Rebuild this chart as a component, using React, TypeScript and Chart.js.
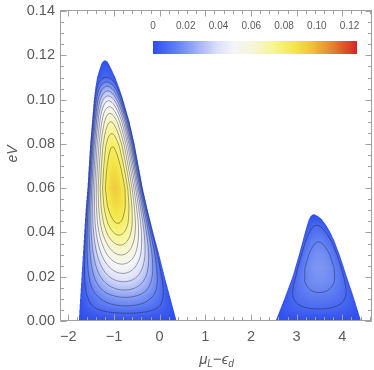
import React, { useEffect, useRef } from 'react';
import { Chart, registerables } from 'chart.js';

Chart.register(...registerables);

// ---- axes ----
const xMin = -2.16;
const xMax = 4.65;
const yMin = 0;
const yMax = 0.1405;
const xTickValues = [-2, -1, 0, 1, 2, 3, 4];
const yTickValues = [0, 0.02, 0.04, 0.06, 0.08, 0.1, 0.12, 0.14];

// ---- colour bar ----
const colorbarTickValues = [0, 0.02, 0.04, 0.06, 0.08, 0.1, 0.12];
const colorbarTickLabels = ['0', '0.02', '0.04', '0.06', '0.08', '0.10', '0.12'];
const colorbarMax = 0.1243;
const colorStops = [0, 0.12, 0.22, 0.32, 0.4, 0.5, 0.6, 0.7, 0.78, 0.87, 1.0];
const colorRGB = [
  [46, 78, 238], [100, 130, 242], [162, 178, 246], [222, 226, 250], [245, 245, 248], [247, 246, 215],
  [248, 245, 140], [245, 230, 70], [238, 195, 60], [228, 140, 50], [210, 40, 40],
];

// ---- contour levels ----
const contourLevels = [0.0075, 0.015, 0.0225, 0.03, 0.0375, 0.045, 0.0525, 0.06, 0.0675, 0.075, 0.0825];

// ---- left lobe (outline rows and ridge values) ----
const leftRowY = [0, 0.01, 0.02, 0.03, 0.04, 0.05, 0.06, 0.07, 0.08, 0.09, 0.1, 0.105, 0.11, 0.1135, 0.116, 0.1172, 0.1178];
const leftRowXMin = [-1.77, -1.74, -1.71, -1.68, -1.65, -1.62, -1.58, -1.55, -1.52, -1.48, -1.44, -1.41, -1.37, -1.32, -1.28, -1.245, -1.2];
const leftRowXMax = [0.37, 0.24, 0.11, -0.01, -0.14, -0.26, -0.37, -0.46, -0.55, -0.66, -0.8, -0.88, -0.97, -1.05, -1.11, -1.145, -1.2];
const leftPeakY = [0, 0.0035, 0.0068, 0.0107, 0.014, 0.0177, 0.0215, 0.0257, 0.0298, 0.0343, 0.0388, 0.0441, 0.052, 0.06, 0.068, 0.0787, 0.0847, 0.09, 0.0938, 0.0968, 0.0995, 0.1017, 0.104, 0.1061, 0.108, 0.11, 0.1178];
const leftPeakValue = [0, 0.0075, 0.015, 0.0225, 0.03, 0.0375, 0.045, 0.0525, 0.06, 0.0675, 0.075, 0.0825, 0.09, 0.094, 0.09, 0.0825, 0.075, 0.0675, 0.06, 0.0525, 0.045, 0.0375, 0.03, 0.0225, 0.015, 0.0075, 0];

// ---- right lobe ----
const rightRowY = [0, 0.01, 0.02, 0.03, 0.036, 0.04, 0.0435, 0.046, 0.0475, 0.0483];
const rightRowXMin = [2.54, 2.73, 2.91, 3.05, 3.13, 3.18, 3.23, 3.27, 3.31, 3.37];
const rightRowXMax = [4.41, 4.26, 4.1, 3.94, 3.83, 3.74, 3.64, 3.55, 3.46, 3.37];
const rightPeakY = [0, 0.0054, 0.0128, 0.018, 0.024, 0.03, 0.0358, 0.0433, 0.0483];
const rightPeakValue = [0, 0.0075, 0.015, 0.0185, 0.02, 0.0185, 0.015, 0.0075, 0];

const lobes = [
  { rowY: leftRowY, xMinRow: leftRowXMin, xMaxRow: leftRowXMax, peakY: leftPeakY, peakV: leftPeakValue, sharp: 0.8 },
  { rowY: rightRowY, xMinRow: rightRowXMin, xMaxRow: rightRowXMax, peakY: rightPeakY, peakV: rightPeakValue, sharp: 0.55 },
];

const FONT = '"Liberation Sans", Arial, "DejaVu Sans", sans-serif';
const TEXT = '#5a5a5a';
const FRAME = '#a0a0a0';

function interp(xs: number[], ys: number[], t: number): number {
  if (t <= xs[0]) return ys[0];
  for (let i = 1; i < xs.length; i++) {
    if (t <= xs[i]) {
      const f = (t - xs[i - 1]) / (xs[i] - xs[i - 1]);
      return ys[i - 1] + f * (ys[i] - ys[i - 1]);
    }
  }
  return ys[ys.length - 1];
}

type Row = { a: number; b: number; A: number; p: number };
function rowParams(y: number): Row[] {
  const out: Row[] = [];
  if (y < 0) return out;
  for (const L of lobes) {
    if (y > L.rowY[L.rowY.length - 1]) continue;
    const a = interp(L.rowY, L.xMinRow, y);
    const b = interp(L.rowY, L.xMaxRow, y);
    if (b <= a) continue;
    out.push({ a, b, A: interp(L.peakY, L.peakV, y), p: L.sharp });
  }
  return out;
}
function evalRow(rows: Row[], x: number): number {
  for (const r of rows) {
    if (x >= r.a && x <= r.b) {
      const u = (x - r.a) / (r.b - r.a);
      return r.A * Math.pow(Math.sin(Math.PI * u), r.p);
    }
  }
  return -1;
}

function colorAt(v: number): number[] {
  let f = v / colorbarMax;
  if (f < 0) f = 0;
  if (f > 1) f = 1;
  for (let i = 1; i < colorStops.length; i++) {
    if (f <= colorStops[i]) {
      const t = (f - colorStops[i - 1]) / (colorStops[i] - colorStops[i - 1]);
      const c0 = colorRGB[i - 1], c1 = colorRGB[i];
      return [c0[0] + t * (c1[0] - c0[0]), c0[1] + t * (c1[1] - c0[1]), c0[2] + t * (c1[2] - c0[2])];
    }
  }
  return colorRGB[colorRGB.length - 1];
}

const fieldPlugin = {
  id: 'contourField',
  beforeDatasetsDraw(chart: any) {
    const { ctx, chartArea: ca, scales } = chart;
    const xs = scales.x, ys = scales.y;
    const left = Math.round(ca.left), top = Math.round(ca.top);
    const w = Math.round(ca.right) - left, h = Math.round(ca.bottom) - top;
    const off = document.createElement('canvas');
    off.width = w; off.height = h;
    const octx = off.getContext('2d')!;
    const img = octx.createImageData(w, h);
    const S = 3;
    const xv: number[] = [];
    for (let i = 0; i < w; i++) for (let s = 0; s < S; s++) xv.push(xs.getValueForPixel(left + i + (s + 0.5) / S));
    for (let j = 0; j < h; j++) {
      const rowsS: Row[][] = [];
      for (let s = 0; s < S; s++) rowsS.push(rowParams(ys.getValueForPixel(top + j + (s + 0.5) / S)));
      if (rowsS.every((r) => r.length === 0)) continue;
      for (let i = 0; i < w; i++) {
        let r = 0, g = 0, b = 0, n = 0;
        for (let sy = 0; sy < S; sy++) {
          const rows = rowsS[sy];
          if (!rows.length) continue;
          for (let sx = 0; sx < S; sx++) {
            const v = evalRow(rows, xv[i * S + sx]);
            if (v < 0) continue;
            const c = colorAt(v);
            r += c[0]; g += c[1]; b += c[2]; n++;
          }
        }
        if (n) {
          const k = (j * w + i) * 4;
          img.data[k] = r / n; img.data[k + 1] = g / n; img.data[k + 2] = b / n;
          img.data[k + 3] = Math.round((255 * n) / (S * S));
        }
      }
    }
    octx.putImageData(img, 0, 0);
    ctx.drawImage(off, left, top);

    // contour lines (marching squares)
    const step = 1;
    const nx = Math.floor(w / step) + 1, ny = Math.floor(h / step) + 1;
    const vals = new Float64Array(nx * ny);
    const xg: number[] = [];
    for (let i = 0; i < nx; i++) xg.push(xs.getValueForPixel(left + i * step));
    for (let j = 0; j < ny; j++) {
      const rows = rowParams(ys.getValueForPixel(top + j * step));
      for (let i = 0; i < nx; i++) vals[j * nx + i] = rows.length ? evalRow(rows, xg[i]) : -1;
    }
    ctx.save();
    ctx.beginPath();
    ctx.rect(ca.left, ca.top, ca.right - ca.left, ca.bottom - ca.top);
    ctx.clip();
    ctx.strokeStyle = 'rgba(20,20,30,0.38)';
    ctx.lineWidth = 1;
    for (const L of contourLevels) {
      ctx.beginPath();
      for (let j = 0; j < ny - 1; j++) {
        for (let i = 0; i < nx - 1; i++) {
          const a = vals[j * nx + i], b = vals[j * nx + i + 1];
          const c = vals[(j + 1) * nx + i + 1], d = vals[(j + 1) * nx + i];
          const idx = (a >= L ? 8 : 0) | (b >= L ? 4 : 0) | (c >= L ? 2 : 0) | (d >= L ? 1 : 0);
          if (idx === 0 || idx === 15) continue;
          const x0 = left + i * step, y0 = top + j * step;
          const T = () => [x0 + ((L - a) / (b - a)) * step, y0];
          const R = () => [x0 + step, y0 + ((L - b) / (c - b)) * step];
          const B = () => [x0 + ((L - d) / (c - d)) * step, y0 + step];
          const Lf = () => [x0, y0 + ((L - a) / (d - a)) * step];
          const segs: number[][][] = [];
          switch (idx) {
            case 1: case 14: segs.push([Lf(), B()]); break;
            case 2: case 13: segs.push([B(), R()]); break;
            case 3: case 12: segs.push([Lf(), R()]); break;
            case 4: case 11: segs.push([T(), R()]); break;
            case 5: segs.push([Lf(), B()], [T(), R()]); break;
            case 6: case 9: segs.push([T(), B()]); break;
            case 7: case 8: segs.push([Lf(), T()]); break;
            case 10: segs.push([T(), Lf()], [R(), B()]); break;
          }
          for (const s of segs) { ctx.moveTo(s[0][0], s[0][1]); ctx.lineTo(s[1][0], s[1][1]); }
        }
      }
      ctx.stroke();
    }
    ctx.restore();
  },
  afterDraw(chart: any) {
    const { ctx, chartArea: ca, scales } = chart;
    const xs = scales.x, ys = scales.y;
    ctx.save();
    // frame
    const fl = Math.round(ca.left) - 0.5, fr = Math.round(ca.right) - 0.5;
    const ft = Math.round(ca.top) + 0.5, fb = Math.round(ca.bottom) - 0.5;
    ctx.strokeStyle = FRAME;
    ctx.lineWidth = 1;
    ctx.strokeRect(fl, ft, fr - fl, fb - ft);
    // ticks
    ctx.beginPath();
    for (let k = Math.ceil(xMin / 0.2); k <= Math.floor(xMax / 0.2); k++) {
      const v = k * 0.2;
      const len = k % 5 === 0 ? 6 : 3.5;
      const px = Math.round(xs.getPixelForValue(v)) + 0.5;
      ctx.moveTo(px, fb); ctx.lineTo(px, fb - len);
      ctx.moveTo(px, ft); ctx.lineTo(px, ft + len);
    }
    for (let k = 0; k <= Math.floor(yMax / 0.005 + 1e-6); k++) {
      const v = k * 0.005;
      const len = k % 4 === 0 ? 6 : 3.5;
      const py = Math.round(ys.getPixelForValue(v)) + 0.5;
      ctx.moveTo(fl, py); ctx.lineTo(fl + len, py);
      ctx.moveTo(fr, py); ctx.lineTo(fr - len, py);
    }
    ctx.stroke();

    // colour bar
    const bl = ca.left + 92, br = ca.right - 15.4, bt = ca.top + 31, bb = ca.top + 44;
    for (let px = Math.round(bl); px < Math.round(br); px++) {
      const v = ((px + 0.5 - bl) / (br - bl)) * colorbarMax;
      const c = colorAt(v);
      ctx.fillStyle = `rgb(${c[0] | 0},${c[1] | 0},${c[2] | 0})`;
      ctx.fillRect(px, bt, 1, bb - bt);
    }
    ctx.fillStyle = TEXT;
    ctx.font = `10px ${FONT}`;
    ctx.textAlign = 'center';
    ctx.textBaseline = 'middle';
    colorbarTickValues.forEach((v, i) => {
      const px = bl + (v / colorbarMax) * (br - bl);
      ctx.fillText(colorbarTickLabels[i], px, ca.top + 16.5);
    });

    // axis titles
    ctx.fillStyle = TEXT;
    ctx.save();
    ctx.translate(16.5, 154);
    ctx.rotate(-Math.PI / 2);
    ctx.font = `italic 14px ${FONT}`;
    ctx.textAlign = 'center';
    ctx.textBaseline = 'alphabetic';
    ctx.fillText('eV', 0, 0);
    ctx.restore();

    const parts = [
      { t: 'μ', f: `italic 15px ${FONT}`, dy: 0 },
      { t: 'L', f: `italic 10px ${FONT}`, dy: 3 },
      { t: '−', f: `15px ${FONT}`, dy: 0 },
      { t: 'ϵ', f: `italic 15px ${FONT}`, dy: 0 },
      { t: 'd', f: `italic 10px ${FONT}`, dy: 3 },
    ];
    let total = 0;
    const widths = parts.map((p) => { ctx.font = p.f; const m = ctx.measureText(p.t).width; total += m; return m; });
    let cx = (ca.left + ca.right) / 2 - total / 2;
    ctx.textAlign = 'left';
    ctx.textBaseline = 'alphabetic';
    parts.forEach((p, i) => {
      ctx.font = p.f;
      ctx.fillText(p.t, cx, 363.5 + p.dy);
      cx += widths[i];
    });
    ctx.restore();
  },
};

export default function App() {
  const ref = useRef<HTMLCanvasElement>(null);
  useEffect(() => {
    const canvas = ref.current!;
    const chart = new Chart(canvas, {
      type: 'scatter',
      data: { datasets: [{ data: [], pointRadius: 0 }] },
      options: {
        animation: false,
        responsive: false,
        devicePixelRatio: 1,
        layout: { padding: { top: 10, right: 2, left: 0, bottom: 0 } },
        plugins: { legend: { display: false }, tooltip: { enabled: false } },
        scales: {
          x: {
            type: 'linear',
            min: xMin,
            max: xMax,
            grid: { display: false, drawTicks: false, tickLength: 0 },
            border: { display: false },
            afterBuildTicks: (s: any) => { s.ticks = xTickValues.map((v) => ({ value: v })); },
            afterFit: (s: any) => { s.height = 49; s.paddingLeft = 0; s.paddingRight = 0; s.paddingTop = 0; s.paddingBottom = 0; },
            ticks: {
              autoSkip: false, maxRotation: 0, padding: 7, color: TEXT,
              font: { family: FONT, size: 14.5 },
              callback: (v: any) => (Number(v) < 0 ? '−' + Math.abs(Number(v)) : String(v)),
            },
          },
          y: {
            type: 'linear',
            min: yMin,
            max: yMax,
            grid: { display: false, drawTicks: false, tickLength: 0 },
            border: { display: false },
            afterBuildTicks: (s: any) => { s.ticks = yTickValues.map((v) => ({ value: v })); },
            afterFit: (s: any) => { s.width = 61; s.paddingLeft = 0; s.paddingRight = 0; s.paddingTop = 0; s.paddingBottom = 0; },
            ticks: {
              autoSkip: false, padding: 6, color: TEXT,
              font: { family: FONT, size: 14.5 },
              callback: (v: any) => Number(v).toFixed(2),
            },
          },
        },
      },
      plugins: [fieldPlugin],
    } as any);
    return () => chart.destroy();
  }, []);
  return (
    <div style={{ position: 'fixed', left: 0, top: 0, width: 374, height: 370, background: '#fff' }}>
      <canvas ref={ref} width={374} height={370} style={{ display: 'block' }} />
    </div>
  );
}
